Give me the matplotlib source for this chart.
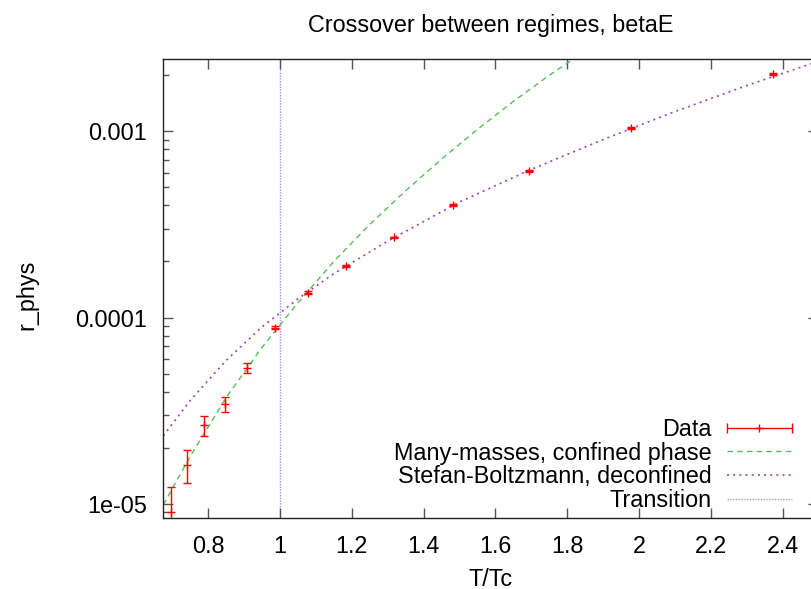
import matplotlib
matplotlib.use("Agg")
import matplotlib.pyplot as plt
from matplotlib.lines import Line2D
from matplotlib.legend_handler import HandlerLine2D, HandlerTuple

plt.rcParams['font.family'] = ['Liberation Sans', 'DejaVu Sans']

# measured points, T/Tc and r_phys with errors
t_data = [0.696, 0.740, 0.789, 0.847, 0.909, 0.986, 1.077, 1.185, 1.318, 1.482, 1.694, 1.978, 2.373]
r_data = [9.06e-6, 1.62e-5, 2.64e-5, 3.42e-5, 5.37e-5, 8.83e-5, 1.36e-4, 1.90e-4,
          2.69e-4, 4.00e-4, 6.09e-4, 1.04e-3, 2.02e-3]
r_err = [3.3e-6, 3.3e-6, 3.2e-6, 3.1e-6, 3.4e-6, 1.4e-6, 2.0e-6, 2.5e-6,
         3.0e-6, 5.0e-6, 8.0e-6, 1.3e-5, 2.5e-5]

# many-masses curve (confined phase)
t_mm = [0.675, 0.75, 0.85, 0.95, 1.05, 1.15, 1.25, 1.35, 1.45, 1.55, 1.65, 1.75, 1.85]
r_mm = [9.89e-6, 1.80e-5, 3.72e-5, 6.92e-5, 1.20e-4, 2.00e-4, 3.16e-4, 4.79e-4,
        7.08e-4, 1.023e-3, 1.445e-3, 1.995e-3, 2.69e-3]

# Stefan-Boltzmann curve (deconfined)
t_sb = [0.675, 0.75, 0.85, 0.95, 1.05, 1.15, 1.3, 1.5, 1.7, 1.9, 2.1, 2.3, 2.5]
r_sb = [2.32e-5, 3.59e-5, 5.89e-5, 8.91e-5, 1.26e-4, 1.72e-4, 2.57e-4, 4.17e-4,
        6.24e-4, 9.02e-4, 1.274e-3, 1.758e-3, 2.371e-3]

t_transition = 1.0

fs = 16.8
green = '#55c055'
purple = '#a040c0'
blue = '#9a9af0'

fig = plt.figure(figsize=(8.12, 5.89), dpi=100)
ax = fig.add_axes([0.2011, 0.1205, 0.8069, 0.7793])

ax.plot(t_mm, r_mm, color=green, lw=1, ls=(0, (4, 3)), zorder=2)
ax.plot(t_sb, r_sb, color=purple, lw=1.2, ls=(0, (1.2, 2.5)), zorder=2)
ax.axvline(t_transition, color=blue, lw=1, ls=(0, (1, 1)), zorder=1)
ax.errorbar(t_data, r_data, yerr=r_err, fmt='+', color='#ff0000', ms=6, mew=1,
            elinewidth=1, capsize=3, capthick=1, zorder=3)

ax.set_yscale('log')
ax.set_xlim(0.675, 2.5)
ax.set_ylim(8.4e-6, 2.44e-3)
ax.set_xticks([0.8, 1.0, 1.2, 1.4, 1.6, 1.8, 2.0, 2.2, 2.4])
ax.set_xticklabels(['0.8', '1', '1.2', '1.4', '1.6', '1.8', '2', '2.2', '2.4'])
ax.set_yticks([1e-5, 1e-4, 1e-3])
ax.set_yticklabels(['1e-05', '0.0001', '0.001'])

ax.tick_params(which='both', direction='in', top=True, right=True,
               labelsize=fs, color='#555555', width=1)
ax.tick_params(which='major', length=7)
ax.tick_params(which='minor', length=4)
ax.tick_params(axis='y', pad=11.7)
ax.tick_params(axis='x', pad=12)
for s in ax.spines.values():
    s.set_linewidth(1)
    s.set_color('#222222')

ax.set_title('Crossover between regimes, betaE', fontsize=fs, pad=19.7)
ax.set_xlabel('T/Tc', fontsize=fs, va='top')
ax.xaxis.set_label_coords(0.5, -0.108)
ax.set_ylabel('r_phys', fontsize=fs)
ax.yaxis.set_label_coords(-0.19, 0.486)

# legend handles in gnuplot style: line with end caps and a centre cross
data_line = Line2D([], [], color='#ff0000', lw=1, marker='+', ms=6, mew=1)
data_caps = Line2D([], [], color='#ff0000', lw=0, marker='|', ms=7, mew=1)
mm_line = Line2D([], [], color=green, lw=1, ls=(0, (4, 3)))
sb_line = Line2D([], [], color=purple, lw=1.2, ls=(0, (1.2, 2.5)))
tr_line = Line2D([], [], color=blue, lw=1, ls=(0, (1, 1)))

leg = ax.legend([(data_line, data_caps), mm_line, sb_line, tr_line],
                ['Data', 'Many-masses, confined phase', 'Stefan-Boltzmann, deconfined', 'Transition'],
                handler_map={tuple: HandlerTuple(ndivide=1, pad=0),
                             data_line: HandlerLine2D(numpoints=1),
                             data_caps: HandlerLine2D(numpoints=2, marker_pad=0)},
                loc='lower right', bbox_to_anchor=(791.7 / 812, 1 - 512 / 589),
                bbox_transform=fig.transFigure, frameon=False, markerfirst=False,
                fontsize=fs, handlelength=2.78, handletextpad=0.64,
                labelspacing=0.03, borderpad=0, borderaxespad=0)

fig.savefig('out.png', dpi=100)
